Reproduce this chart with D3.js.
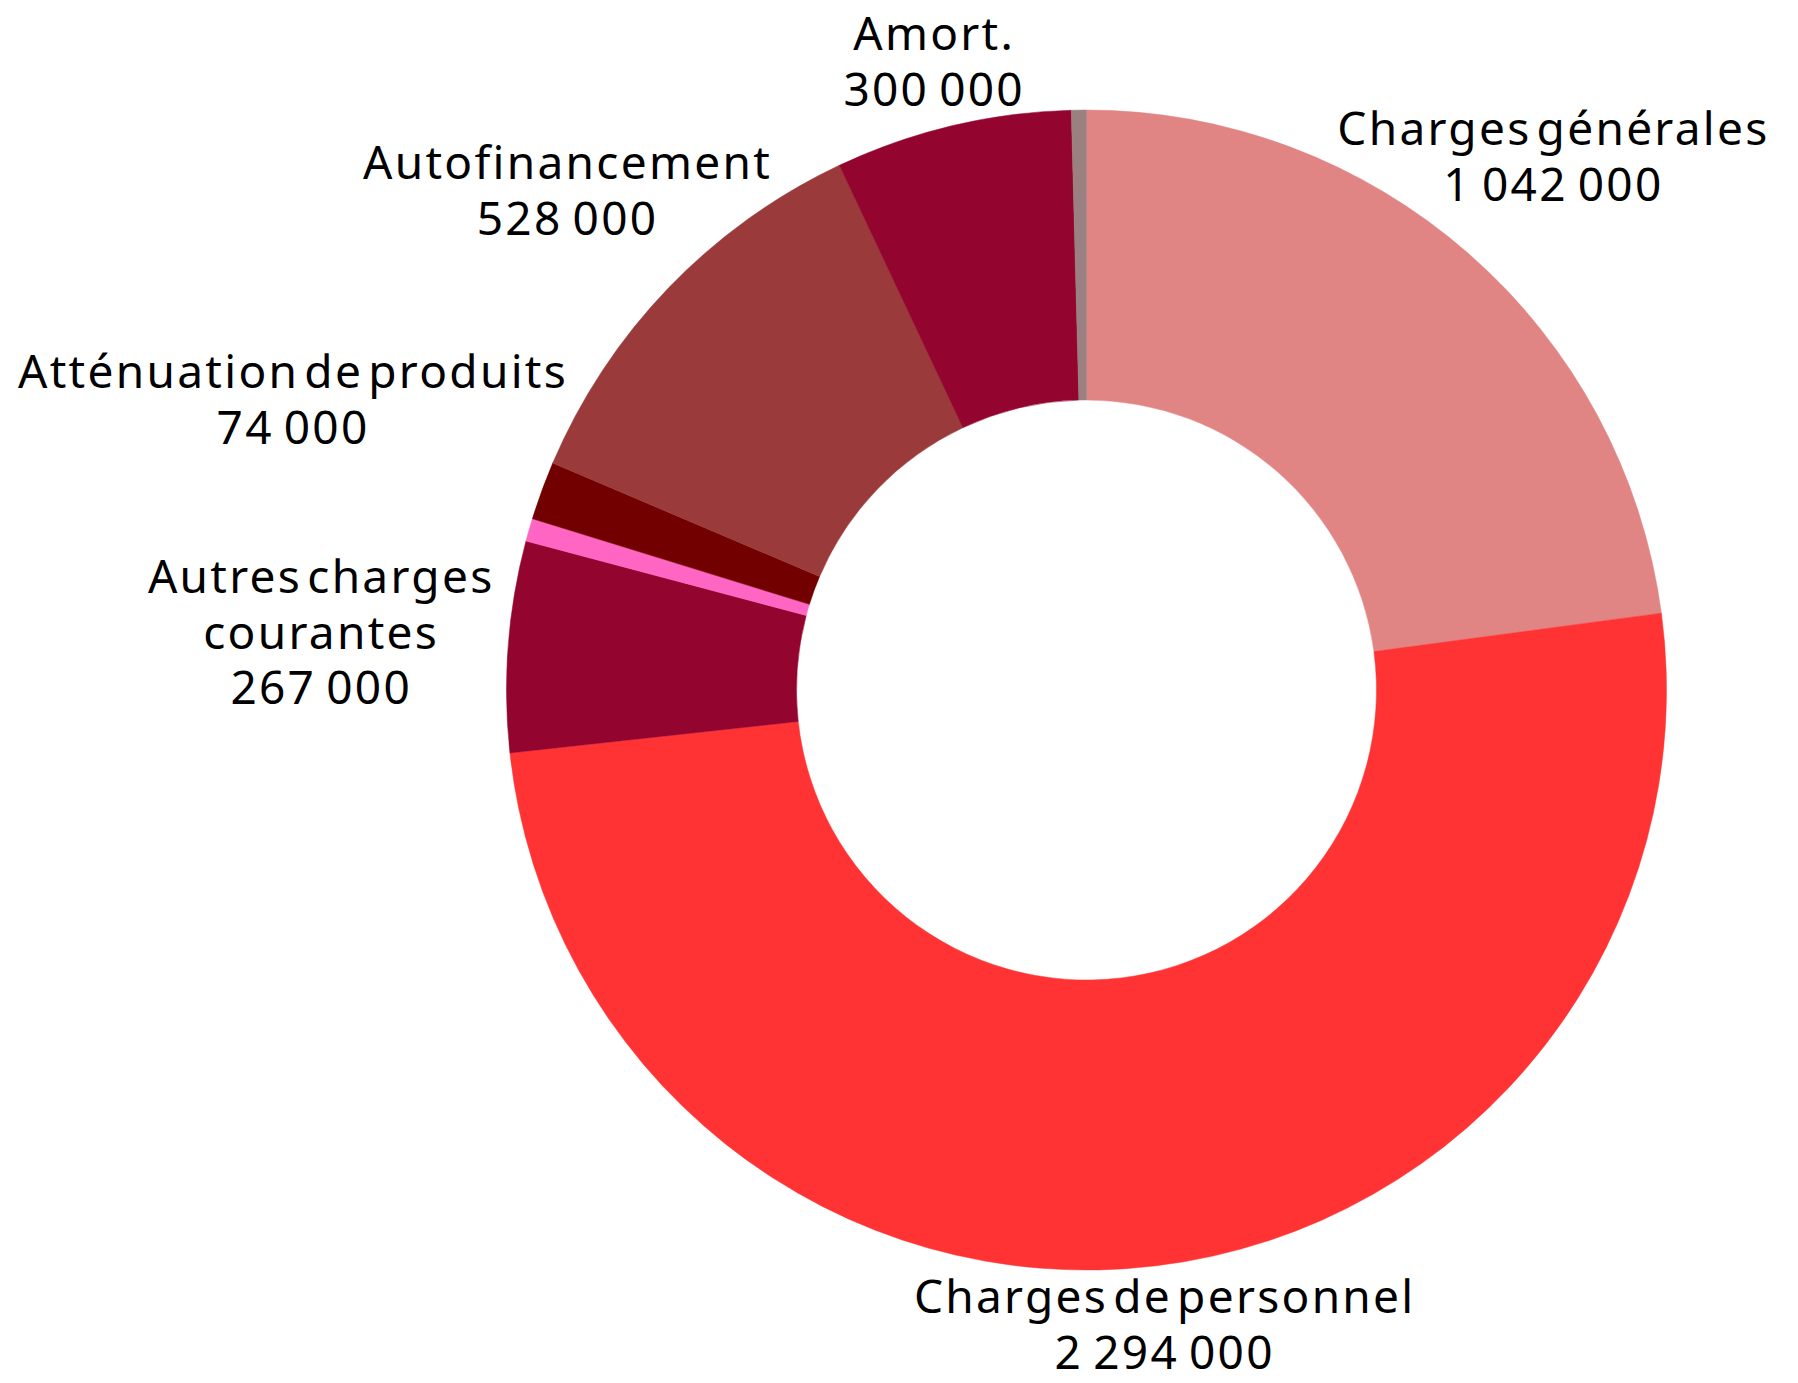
<!DOCTYPE html>
<html>
<head>
<meta charset="utf-8">
<script src="https://cdn.jsdelivr.net/npm/d3@7"></script>
<style>
  html, body { margin: 0; padding: 0; background: #ffffff; }
  svg { display: block; }
  text { font-family: "Noto Sans", Lato, sans-serif; fill: #000000; }
</style>
</head>
<body>
<svg id="chart" width="1798" height="1383"></svg>
<script>
// ---- data ----
const categories = ["Charges générales", "Charges de personnel", "Autres charges courantes", "", "Atténuation de produits", "Autofinancement", "Amort.", ""];
const values = [1042000, 2294000, 267000, 29000, 74000, 528000, 300000, 19000];
const labelLines = [["Charges générales"], ["Charges de personnel"], ["Autres charges", "courantes"], [], ["Atténuation de produits"], ["Autofinancement"], ["Amort."], []];
const colors = ["#e08484", "#ff3333", "#93052f", "#ff66c4", "#730000", "#9b3a3b", "#93052f", "#9a8080"];

// ---- layout ----
const W = 1798, H = 1383;
const cx = 1086.5, cy = 690;
const outerR = 580, innerR = 290;
const fontSize = 46, lineH = 56;
const capH = 0.714 * fontSize;
const ascent = 1.07 * fontSize;
const descent = 0.3 * fontSize;
const labelGap = 600;

const fr = d3.formatLocale({decimal: ",", thousands: "\u2009", grouping: [3], currency: ["", " €"]});
const fmt = fr.format(",d");

const svg = d3.select("#chart");
const g = svg.append("g").attr("transform", `translate(${cx},${cy})`);

const data = categories.map((c, i) => ({name: c, value: values[i], lines: labelLines[i], color: colors[i]}));

const pie = d3.pie().sort(null).value(d => d.value);
const arc = d3.arc().innerRadius(innerR).outerRadius(outerR);
const arcs = pie(data);

g.selectAll("path.slice")
  .data(arcs)
  .join("path")
  .attr("class", "slice")
  .attr("d", arc)
  .attr("fill", d => d.data.color)
  .attr("stroke", d => d.data.color)
  .attr("stroke-width", 0.5);

const labels = g.selectAll("text.label")
  .data(arcs.filter(d => d.data.lines.length > 0))
  .join("text")
  .attr("class", "label")
  .attr("text-anchor", "middle")
  .attr("font-size", fontSize)
  .attr("font-weight", 400)
  .style("word-spacing", "-0.2em")
  .style("letter-spacing", "0.05em");

labels.each(function(d) {
  const t = d3.select(this);
  const lines = d.data.lines.concat([fmt(d.data.value)]);
  const n = lines.length;
  const blockH = (n - 1) * lineH + capH;
  const boxes = lines.map((ln, i) => {
    const base = -blockH / 2 + capH + i * lineH;
    const sp = t.append("tspan").attr("x", 0).attr("y", base).text(ln);
    const w = sp.node().getComputedTextLength();
    return {x0: -w / 2, x1: w / 2, y0: base - capH, y1: base};
  });
  const mid = (d.startAngle + d.endAngle) / 2;
  const s = Math.sin(mid), c = -Math.cos(mid);
  const nearest = (dist) => {
    const ox = dist * s, oy = dist * c;
    return d3.min(boxes, b => {
      const nx = Math.max(ox + b.x0, Math.min(0, ox + b.x1));
      const ny = Math.max(oy + b.y0, Math.min(0, oy + b.y1));
      return Math.hypot(nx, ny);
    });
  };
  let lo = 0, hi = 2000;
  for (let k = 0; k < 60; k++) {
    const m = (lo + hi) / 2;
    if (nearest(m) < labelGap) lo = m; else hi = m;
  }
  let ox = hi * s, oy = hi * c;
  // keep the text box inside the canvas vertically
  const firstBase = -blockH / 2 + capH;
  const topCanvas = cy + oy + firstBase - ascent;
  if (topCanvas < 1) oy += 1 - topCanvas;
  const bottomCanvas = cy + oy + blockH / 2 + descent;
  if (bottomCanvas > H) oy -= bottomCanvas - H;
  t.attr("transform", `translate(${ox},${oy})`);
});
</script>
</body>
</html>
